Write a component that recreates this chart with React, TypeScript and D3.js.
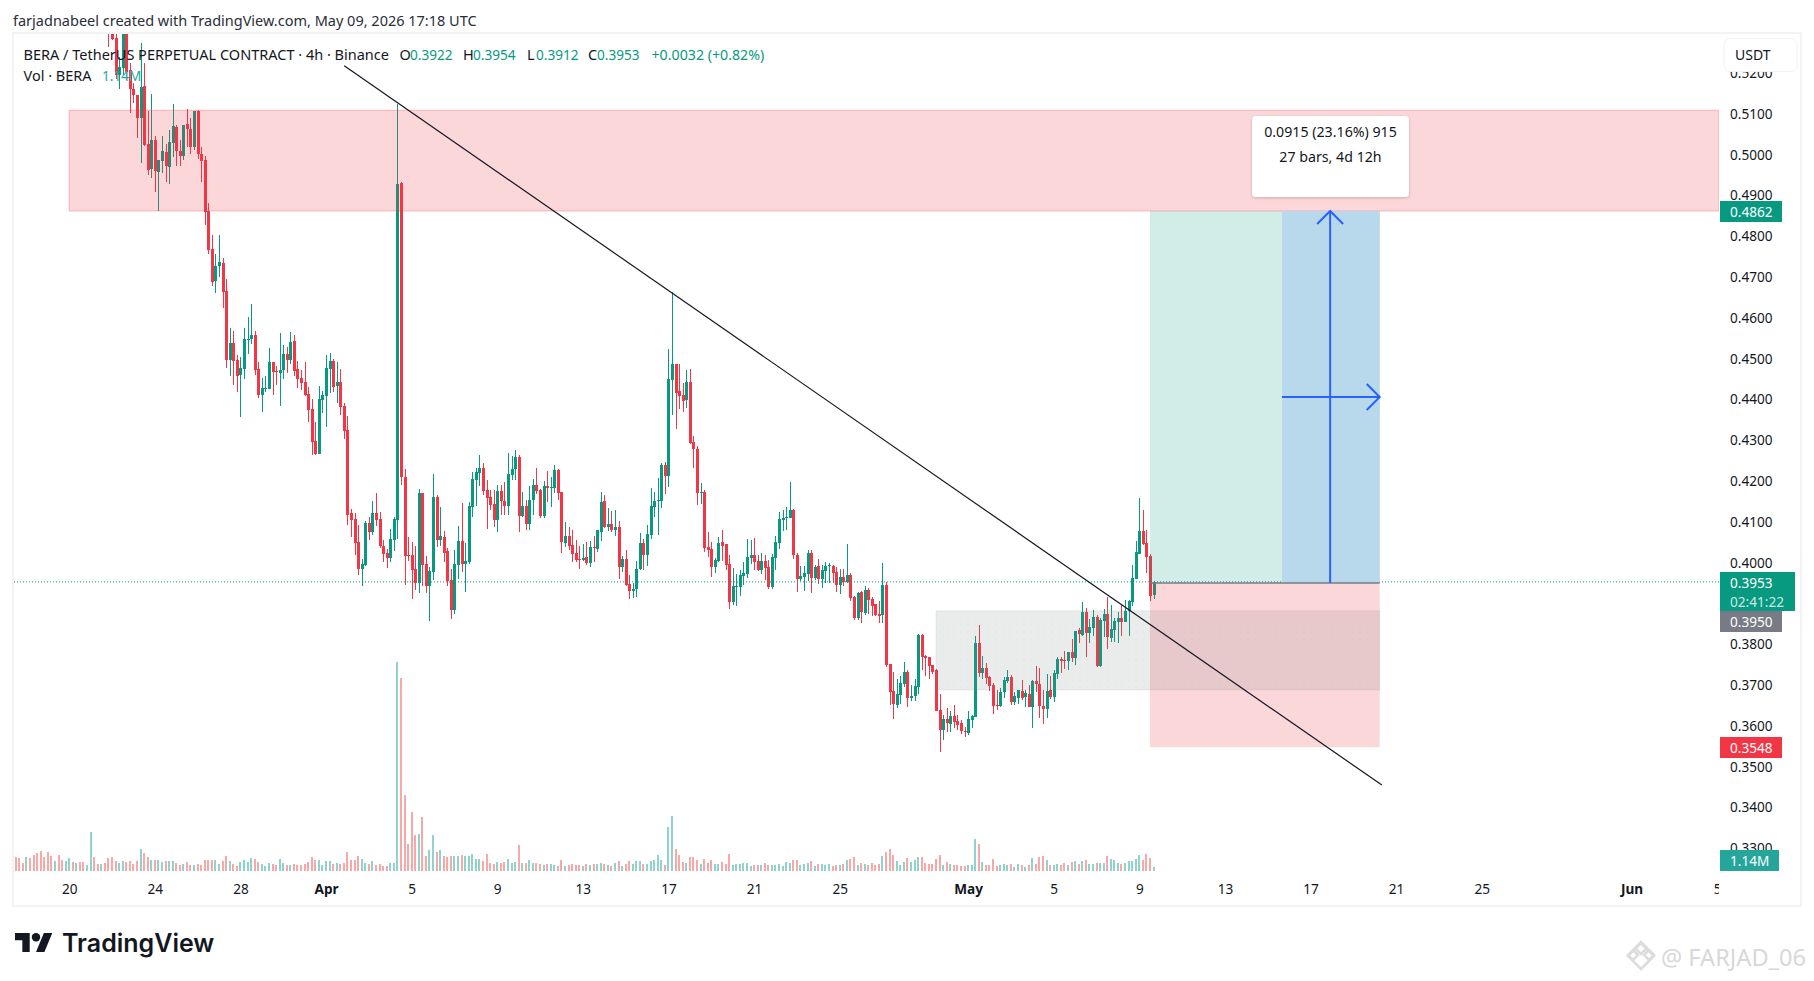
import React from 'react';
import * as d3 from 'd3';

const WIDTH = 1814;
const HEIGHT = 981;

// 4h bars, the first one on Mar 17 12:00
const firstBarTime = Date.UTC(2026, 2, 17, 12);
const barMs = 4 * 3600 * 1000;

// candles before bar 26 are above the visible range
const firstCandleBar = 26;

const opens = [
  0.5340, 0.5310, 0.5285, 0.5195,
  0.5212, 0.5320, 0.5207, 0.5161, 0.5146, 0.5089, 0.5168, 0.5026, 0.4965, 0.5037,
  0.4958, 0.4985, 0.5006, 0.4970, 0.5028, 0.5068, 0.5009, 0.4997, 0.5075, 0.5063,
  0.5019, 0.5107, 0.5002, 0.4987, 0.4862, 0.4769, 0.4691, 0.4726, 0.4734, 0.4666,
  0.4497, 0.4538, 0.4497, 0.4460, 0.4475, 0.4547, 0.4548, 0.4558, 0.4475, 0.4411,
  0.4427, 0.4426, 0.4492, 0.4471, 0.4464, 0.4472, 0.4512, 0.4497, 0.4543, 0.4475,
  0.4453, 0.4443, 0.4414, 0.4377, 0.4298, 0.4267, 0.4399, 0.4409, 0.4475, 0.4494,
  0.4433, 0.4443, 0.4384, 0.4325, 0.4122, 0.4107, 0.4051, 0.3985, 0.3994, 0.4097,
  0.4075, 0.4122, 0.4107, 0.4041, 0.4024, 0.4012, 0.4056, 0.4105, 0.4931, 0.4210,
  0.4019, 0.4019, 0.3985, 0.3950, 0.4171, 0.3997, 0.3943, 0.3977, 0.4161, 0.4056,
  0.4063, 0.4029, 0.3958, 0.3884, 0.3994, 0.4053, 0.3997, 0.4002, 0.4137, 0.4203,
  0.4220, 0.4232, 0.4178, 0.4161, 0.4144, 0.4105, 0.4176, 0.4151, 0.4139, 0.4215,
  0.4230, 0.4259, 0.4115, 0.4139, 0.4095, 0.4154, 0.4191, 0.4178, 0.4115, 0.4188,
  0.4183, 0.4183, 0.4227, 0.4173, 0.4048, 0.4066, 0.4043, 0.4024, 0.4009, 0.4007,
  0.4014, 0.3999, 0.4039, 0.4034, 0.4075, 0.4151, 0.4088, 0.4095, 0.4080, 0.4088,
  0.3990, 0.4009, 0.3948, 0.3931, 0.3936, 0.3985, 0.4048, 0.4019, 0.4068, 0.4137,
  0.4151, 0.4151, 0.4240, 0.4213, 0.4448, 0.4487, 0.4421, 0.4411, 0.4399, 0.4443,
  0.4296, 0.4279, 0.4171, 0.4173, 0.4039, 0.4034, 0.3990, 0.4004, 0.4051, 0.4046,
  0.3997, 0.3904, 0.3941, 0.3941, 0.3968, 0.3972, 0.4012, 0.4019, 0.4004, 0.3982,
  0.4004, 0.3990, 0.3941, 0.4012, 0.4048, 0.4105, 0.4110, 0.4110, 0.4129, 0.4019,
  0.3960, 0.3965, 0.3972, 0.4024, 0.3963, 0.3992, 0.3960, 0.3980, 0.3992, 0.3992,
  0.3977, 0.3945, 0.3965, 0.3953, 0.3970, 0.3916, 0.3865, 0.3928, 0.3877, 0.3933,
  0.3911, 0.3899, 0.3874, 0.3872, 0.3945, 0.3752, 0.3686, 0.3651, 0.3676, 0.3703,
  0.3732, 0.3668, 0.3673, 0.3695, 0.3823, 0.3771, 0.3769, 0.3749, 0.3737, 0.3639,
  0.3590, 0.3617, 0.3605, 0.3624, 0.3612, 0.3607, 0.3588, 0.3583, 0.3615, 0.3622,
  0.3803, 0.3730, 0.3742, 0.3720, 0.3700, 0.3651, 0.3649, 0.3683, 0.3710, 0.3720,
  0.3659, 0.3668, 0.3686, 0.3671, 0.3678, 0.3646, 0.3710, 0.3703, 0.3649, 0.3642,
  0.3688, 0.3670, 0.3727, 0.3764, 0.3761, 0.3759, 0.3781, 0.3766, 0.3835, 0.3823,
  0.3879, 0.3828, 0.3840, 0.3867, 0.3747, 0.3857, 0.3874, 0.3816, 0.3835, 0.3855,
  0.3865, 0.3855, 0.3882, 0.3904, 0.3960, 0.4021, 0.4078, 0.4048, 0.4017, 0.3922,
];

const highs = [
  0.5360, 0.5330, 0.5310, 0.5240,
  0.5350, 0.5340, 0.5224, 0.5175, 0.5146, 0.5273, 0.5224, 0.5107, 0.5150, 0.5046,
  0.4987, 0.5046, 0.5026, 0.5060, 0.5124, 0.5072, 0.5036, 0.5073, 0.5112, 0.5089,
  0.5107, 0.5109, 0.5018, 0.4997, 0.4881, 0.4803, 0.4757, 0.4803, 0.4746, 0.4695,
  0.4575, 0.4568, 0.4509, 0.4503, 0.4575, 0.4601, 0.4634, 0.4568, 0.4491, 0.4452,
  0.4458, 0.4526, 0.4492, 0.4482, 0.4562, 0.4534, 0.4528, 0.4566, 0.4558, 0.4494,
  0.4472, 0.4491, 0.4430, 0.4401, 0.4344, 0.4433, 0.4421, 0.4509, 0.4514, 0.4499,
  0.4492, 0.4475, 0.4392, 0.4360, 0.4132, 0.4122, 0.4093, 0.4008, 0.4102, 0.4112,
  0.4151, 0.4171, 0.4124, 0.4056, 0.4034, 0.4083, 0.4112, 0.5125, 0.4934, 0.4229,
  0.4063, 0.4051, 0.4041, 0.4181, 0.4171, 0.4017, 0.3990, 0.4218, 0.4166, 0.4137,
  0.4078, 0.4036, 0.3985, 0.4031, 0.4090, 0.4146, 0.4048, 0.4149, 0.4222, 0.4232,
  0.4264, 0.4244, 0.4203, 0.4178, 0.4178, 0.4191, 0.4191, 0.4198, 0.4269, 0.4262,
  0.4276, 0.4264, 0.4173, 0.4154, 0.4188, 0.4205, 0.4232, 0.4181, 0.4200, 0.4225,
  0.4210, 0.4240, 0.4230, 0.4173, 0.4100, 0.4088, 0.4080, 0.4056, 0.4041, 0.4046,
  0.4051, 0.4053, 0.4066, 0.4080, 0.4173, 0.4166, 0.4134, 0.4127, 0.4129, 0.4102,
  0.4017, 0.4031, 0.3970, 0.3950, 0.4004, 0.4073, 0.4058, 0.4093, 0.4183, 0.4173,
  0.4208, 0.4244, 0.4247, 0.4524, 0.4664, 0.4487, 0.4487, 0.4441, 0.4472, 0.4475,
  0.4311, 0.4286, 0.4195, 0.4178, 0.4075, 0.4051, 0.4012, 0.4063, 0.4080, 0.4046,
  0.4019, 0.3987, 0.3972, 0.3982, 0.4002, 0.4058, 0.4056, 0.4061, 0.4019, 0.4024,
  0.4019, 0.4007, 0.4021, 0.4066, 0.4124, 0.4129, 0.4137, 0.4198, 0.4132, 0.4024,
  0.3992, 0.3992, 0.4031, 0.4031, 0.3994, 0.4009, 0.3994, 0.4002, 0.3999, 0.3994,
  0.3990, 0.3985, 0.3985, 0.4046, 0.3975, 0.3918, 0.3928, 0.3931, 0.3943, 0.3938,
  0.3916, 0.3899, 0.3906, 0.3999, 0.3953, 0.3752, 0.3732, 0.3715, 0.3722, 0.3757,
  0.3737, 0.3700, 0.3715, 0.3825, 0.3825, 0.3774, 0.3769, 0.3749, 0.3740, 0.3678,
  0.3627, 0.3644, 0.3637, 0.3651, 0.3627, 0.3615, 0.3597, 0.3637, 0.3627, 0.3820,
  0.3847, 0.3771, 0.3754, 0.3722, 0.3705, 0.3688, 0.3693, 0.3720, 0.3737, 0.3725,
  0.3683, 0.3688, 0.3713, 0.3688, 0.3700, 0.3713, 0.3747, 0.3742, 0.3688, 0.3727,
  0.3722, 0.3737, 0.3769, 0.3769, 0.3784, 0.3781, 0.3813, 0.3833, 0.3840, 0.3904,
  0.3889, 0.3862, 0.3884, 0.3872, 0.3865, 0.3887, 0.3916, 0.3896, 0.3865, 0.3879,
  0.3896, 0.3909, 0.3909, 0.3994, 0.4053, 0.4159, 0.4129, 0.4080, 0.4021, 0.3954,
];

const lows = [
  0.5265, 0.5280, 0.5185, 0.5162,
  0.5195, 0.5183, 0.5101, 0.5126, 0.5042, 0.4980, 0.5022, 0.4950, 0.4944, 0.4909,
  0.4863, 0.4954, 0.4934, 0.4928, 0.4995, 0.4973, 0.4973, 0.4987, 0.5020, 0.5002,
  0.5011, 0.4989, 0.4934, 0.4827, 0.4757, 0.4677, 0.4662, 0.4701, 0.4625, 0.4476,
  0.4458, 0.4436, 0.4419, 0.4356, 0.4450, 0.4512, 0.4536, 0.4460, 0.4403, 0.4370,
  0.4419, 0.4425, 0.4411, 0.4436, 0.4384, 0.4450, 0.4464, 0.4487, 0.4458, 0.4427,
  0.4423, 0.4409, 0.4345, 0.4264, 0.4264, 0.4267, 0.4366, 0.4333, 0.4416, 0.4418,
  0.4392, 0.4362, 0.4303, 0.4093, 0.4063, 0.4019, 0.3970, 0.3943, 0.3992, 0.4056,
  0.4068, 0.4090, 0.4036, 0.4002, 0.3987, 0.4002, 0.4029, 0.4059, 0.4191, 0.3945,
  0.4004, 0.3911, 0.3933, 0.3926, 0.3943, 0.3926, 0.3857, 0.3958, 0.4039, 0.4041,
  0.4002, 0.3943, 0.3862, 0.3874, 0.3960, 0.3977, 0.3928, 0.3997, 0.4112, 0.4139,
  0.4188, 0.4166, 0.4083, 0.4129, 0.4088, 0.4075, 0.4117, 0.4117, 0.4117, 0.4203,
  0.4203, 0.4075, 0.4112, 0.4080, 0.4080, 0.4117, 0.4168, 0.4110, 0.4110, 0.4149,
  0.4137, 0.4171, 0.4154, 0.4024, 0.4039, 0.4031, 0.4002, 0.4002, 0.3985, 0.4004,
  0.3994, 0.3990, 0.4002, 0.4026, 0.4053, 0.4085, 0.4078, 0.4075, 0.4066, 0.3960,
  0.3977, 0.3943, 0.3911, 0.3914, 0.3916, 0.3982, 0.3982, 0.3992, 0.4058, 0.4113,
  0.4068, 0.4134, 0.4168, 0.4186, 0.4362, 0.4328, 0.4377, 0.4369, 0.4379, 0.4291,
  0.4232, 0.4142, 0.4144, 0.4026, 0.4014, 0.3965, 0.3975, 0.4002, 0.4004, 0.3982,
  0.3887, 0.3897, 0.3894, 0.3919, 0.3945, 0.3963, 0.3997, 0.3982, 0.3980, 0.3972,
  0.3958, 0.3936, 0.3936, 0.3982, 0.4034, 0.4078, 0.4080, 0.4110, 0.4009, 0.3928,
  0.3955, 0.3931, 0.3955, 0.3926, 0.3958, 0.3948, 0.3938, 0.3950, 0.3950, 0.3950,
  0.3928, 0.3923, 0.3943, 0.3950, 0.3906, 0.3860, 0.3860, 0.3852, 0.3872, 0.3874,
  0.3869, 0.3869, 0.3852, 0.3852, 0.3745, 0.3651, 0.3617, 0.3644, 0.3654, 0.3695,
  0.3646, 0.3661, 0.3661, 0.3678, 0.3737, 0.3722, 0.3715, 0.3727, 0.3637, 0.3536,
  0.3566, 0.3585, 0.3585, 0.3595, 0.3590, 0.3580, 0.3573, 0.3578, 0.3595, 0.3622,
  0.3720, 0.3715, 0.3703, 0.3686, 0.3629, 0.3639, 0.3646, 0.3668, 0.3705, 0.3651,
  0.3651, 0.3654, 0.3664, 0.3646, 0.3646, 0.3595, 0.3683, 0.3619, 0.3605, 0.3619,
  0.3666, 0.3659, 0.3715, 0.3730, 0.3740, 0.3737, 0.3757, 0.3749, 0.3803, 0.3820,
  0.3769, 0.3803, 0.3820, 0.3745, 0.3745, 0.3818, 0.3789, 0.3806, 0.3806, 0.3803,
  0.3820, 0.3855, 0.3820, 0.3894, 0.3960, 0.4021, 0.4043, 0.3975, 0.3906, 0.3912,
];

const closes = [
  0.5310, 0.5283, 0.5195, 0.5216,
  0.5320, 0.5203, 0.5162, 0.5146, 0.5089, 0.5165, 0.5024, 0.4962, 0.5037, 0.4961,
  0.4987, 0.5009, 0.4972, 0.5030, 0.5070, 0.5010, 0.4997, 0.5073, 0.5062, 0.5019,
  0.5107, 0.5002, 0.4985, 0.4860, 0.4767, 0.4689, 0.4727, 0.4736, 0.4664, 0.4497,
  0.4538, 0.4495, 0.4458, 0.4477, 0.4548, 0.4548, 0.4558, 0.4472, 0.4411, 0.4427,
  0.4429, 0.4492, 0.4468, 0.4468, 0.4472, 0.4512, 0.4497, 0.4541, 0.4470, 0.4450,
  0.4441, 0.4411, 0.4374, 0.4296, 0.4267, 0.4401, 0.4411, 0.4477, 0.4494, 0.4431,
  0.4443, 0.4382, 0.4323, 0.4117, 0.4105, 0.4048, 0.3985, 0.3997, 0.4097, 0.4075,
  0.4122, 0.4105, 0.4041, 0.4021, 0.4012, 0.4058, 0.4107, 0.4928, 0.4211, 0.4017,
  0.4017, 0.3982, 0.3950, 0.4171, 0.3994, 0.3943, 0.3980, 0.4161, 0.4056, 0.4066,
  0.4024, 0.3955, 0.3884, 0.3997, 0.4053, 0.3997, 0.4004, 0.4139, 0.4205, 0.4222,
  0.4232, 0.4176, 0.4159, 0.4141, 0.4105, 0.4176, 0.4151, 0.4139, 0.4218, 0.4230,
  0.4259, 0.4115, 0.4139, 0.4095, 0.4154, 0.4191, 0.4176, 0.4115, 0.4188, 0.4183,
  0.4186, 0.4227, 0.4171, 0.4051, 0.4066, 0.4041, 0.4021, 0.4007, 0.4007, 0.4012,
  0.3999, 0.4039, 0.4036, 0.4080, 0.4149, 0.4088, 0.4095, 0.4080, 0.4088, 0.3990,
  0.4009, 0.3945, 0.3931, 0.3936, 0.3985, 0.4048, 0.4019, 0.4070, 0.4139, 0.4151,
  0.4154, 0.4240, 0.4213, 0.4450, 0.4487, 0.4416, 0.4409, 0.4396, 0.4443, 0.4293,
  0.4279, 0.4171, 0.4173, 0.4036, 0.4031, 0.3990, 0.4007, 0.4048, 0.4041, 0.3994,
  0.3904, 0.3943, 0.3943, 0.3970, 0.3975, 0.4014, 0.4019, 0.4002, 0.3982, 0.4004,
  0.3987, 0.3941, 0.4014, 0.4051, 0.4107, 0.4110, 0.4112, 0.4129, 0.4019, 0.3960,
  0.3968, 0.3975, 0.4024, 0.3963, 0.3990, 0.3960, 0.3982, 0.3992, 0.3994, 0.3975,
  0.3945, 0.3965, 0.3953, 0.3970, 0.3914, 0.3865, 0.3926, 0.3879, 0.3933, 0.3909,
  0.3894, 0.3872, 0.3869, 0.3945, 0.3749, 0.3683, 0.3654, 0.3678, 0.3705, 0.3732,
  0.3668, 0.3673, 0.3698, 0.3823, 0.3769, 0.3766, 0.3747, 0.3732, 0.3637, 0.3590,
  0.3617, 0.3607, 0.3624, 0.3610, 0.3602, 0.3588, 0.3585, 0.3617, 0.3624, 0.3803,
  0.3730, 0.3742, 0.3718, 0.3698, 0.3649, 0.3649, 0.3683, 0.3713, 0.3720, 0.3659,
  0.3673, 0.3688, 0.3668, 0.3681, 0.3646, 0.3710, 0.3703, 0.3649, 0.3642, 0.3686,
  0.3670, 0.3730, 0.3764, 0.3759, 0.3759, 0.3781, 0.3766, 0.3833, 0.3825, 0.3879,
  0.3828, 0.3843, 0.3867, 0.3747, 0.3860, 0.3874, 0.3818, 0.3838, 0.3857, 0.3865,
  0.3855, 0.3882, 0.3906, 0.3963, 0.4026, 0.4078, 0.4046, 0.4014, 0.3919, 0.3953,
];

// volume in millions, one per bar from bar 0
const volumes = [
  4.0, 3.7, 2.3, 4.0, 3.7, 4.6, 5.2, 5.7, 4.0, 5.45,
  4.3, 2.9, 4.6, 3.2, 2.9, 3.7, 2.6, 2.3, 2.6, 2.6,
  1.7, 11.2, 4.0, 2.0, 2.0, 2.3, 3.7, 4.0, 2.9, 2.3,
  2.9, 2.6, 2.9, 2.0, 2.9, 6.3, 5.2, 4.0, 3.2, 3.2,
  3.2, 2.6, 2.9, 2.9, 2.9, 2.3, 1.7, 2.0, 2.6, 1.7,
  1.7, 2.0, 1.7, 3.2, 3.2, 3.2, 3.2, 2.0, 2.9, 4.3,
  2.9, 2.0, 1.4, 2.6, 3.2, 2.6, 3.7, 3.4, 2.6, 2.0,
  1.4, 2.3, 2.0, 1.7, 3.4, 2.3, 1.7, 1.7, 2.0, 1.7,
  1.7, 2.0, 2.6, 4.0, 3.2, 3.2, 1.7, 2.9, 2.9, 2.0,
  2.3, 2.0, 2.3, 5.45, 3.2, 3.2, 4.3, 3.4, 2.3, 2.0,
  2.9, 1.7, 2.0, 1.4, 1.4, 2.3, 2.3, 60, 55.4, 21.8,
  7.75, 16.9, 10.3, 10.6, 15.5, 4.3, 6.0, 10.3, 5.45, 6.0,
  4.3, 4.0, 4.3, 4.3, 4.3, 4.6, 4.3, 4.3, 4.9, 3.4,
  3.4, 2.9, 4.9, 2.3, 2.0, 2.6, 2.3, 2.6, 3.4, 2.3,
  2.6, 7.5, 2.3, 2.3, 3.2, 2.3, 2.3, 2.0, 1.7, 2.0,
  2.0, 1.7, 1.4, 3.2, 1.4, 1.7, 2.0, 1.7, 1.7, 1.4,
  2.0, 1.7, 2.0, 2.0, 2.3, 2.0, 1.7, 1.4, 2.3, 2.9,
  1.4, 2.0, 2.9, 2.0, 2.9, 2.9, 2.0, 2.0, 2.9, 3.2,
  4.6, 3.2, 1.7, 12.6, 15.8, 6.3, 4.6, 2.6, 2.3, 4.0,
  4.0, 3.2, 2.0, 3.4, 2.3, 3.2, 2.0, 2.0, 2.6, 2.0,
  4.9, 1.7, 2.0, 2.0, 2.3, 2.3, 1.4, 1.7, 1.7, 1.7,
  2.3, 1.7, 1.7, 1.7, 2.0, 1.4, 2.6, 2.3, 3.2, 3.2,
  1.7, 2.0, 2.3, 2.9, 1.4, 2.0, 2.0, 1.7, 2.0, 1.4,
  1.7, 1.7, 2.0, 3.2, 3.4, 4.0, 1.7, 2.3, 2.0, 1.7,
  2.3, 1.7, 2.0, 4.3, 5.45, 6.3, 4.6, 2.9, 1.7, 2.6,
  3.7, 2.6, 3.2, 4.0, 4.0, 2.3, 2.0, 2.0, 3.4, 4.6,
  1.7, 2.6, 2.0, 1.7, 1.7, 1.4, 1.4, 1.7, 1.7, 9.2,
  7.75, 2.6, 1.7, 1.7, 3.4, 1.4, 1.7, 2.0, 1.7, 2.0,
  1.15, 2.0, 1.7, 1.15, 1.7, 3.7, 2.0, 4.0, 4.3, 3.2,
  1.7, 1.7, 2.0, 1.7, 2.3, 1.7, 2.6, 2.9, 2.0, 2.9,
  3.2, 2.0, 2.0, 2.3, 2.3, 2.3, 4.3, 3.4, 3.2, 2.3,
  2.0, 2.3, 2.9, 2.9, 3.4, 4.6, 3.2, 4.9, 3.7, 1.14,
];

// direction of the bars whose candles are off the top (1 = up)
const earlyVolumeUp = [0, 0, 0, 1, 0, 0, 0, 0, 0, 0, 0, 1, 0, 0, 1, 1, 0, 1, 0, 0, 1, 1, 0, 0, 1, 0];

// 0.39 sits behind the last price label
const priceTicks = [0.52, 0.51, 0.5, 0.49, 0.48, 0.47, 0.46, 0.45, 0.44, 0.43, 0.42, 0.41, 0.4, 0.38, 0.37, 0.36, 0.35, 0.34, 0.33];

const timeTicks = [
  Date.UTC(2026, 2, 20), Date.UTC(2026, 2, 24), Date.UTC(2026, 2, 28), Date.UTC(2026, 3, 1),
  Date.UTC(2026, 3, 5), Date.UTC(2026, 3, 9), Date.UTC(2026, 3, 13), Date.UTC(2026, 3, 17),
  Date.UTC(2026, 3, 21), Date.UTC(2026, 3, 25), Date.UTC(2026, 4, 1), Date.UTC(2026, 4, 5),
  Date.UTC(2026, 4, 9), Date.UTC(2026, 4, 13), Date.UTC(2026, 4, 17), Date.UTC(2026, 4, 21),
  Date.UTC(2026, 4, 25), Date.UTC(2026, 5, 1), Date.UTC(2026, 5, 5),
];

const UP = '#089981';
const DOWN = '#F23645';
const VOL_UP = 'rgba(38,166,154,0.5)';
const VOL_DOWN = 'rgba(239,83,80,0.5)';
const TEXT = '#131722';
const FONT = '"Noto Sans", sans-serif';
const WORD_SIZE = 14.5;
const NUMBER_SIZE = 13.6;

const App: React.FC = () => {
  const svgRef = React.useRef<SVGSVGElement>(null);

  React.useEffect(() => {
    if (!svgRef.current) return;
    const svg = d3.select(svgRef.current);
    svg.selectAll('*').remove();

    const paneRight = 1719;
    const paneTop = 34;
    const paneBottom = 872;

    const x = d3.scaleUtc()
      .domain([firstBarTime, firstBarTime + 480 * barMs])
      .range([15.7, 15.7 + 480 * 3.567]);
    const barX = (bar: number) => x(firstBarTime + bar * barMs);
    const y = d3.scaleLinear().domain([0.4, 0.51]).range([562.7, 113.9]);
    const volY = d3.scaleLinear().domain([0, 60]).range([871, 662]);

    const defs = svg.append('defs');
    defs.append('clipPath').attr('id', 'pane')
      .append('rect').attr('x', 14).attr('y', paneTop).attr('width', paneRight - 14).attr('height', paneBottom - paneTop);
    defs.append('clipPath').attr('id', 'timePane')
      .append('rect').attr('x', 14).attr('y', paneBottom).attr('width', paneRight - 14).attr('height', 32);
    defs.append('clipPath').attr('id', 'page')
      .append('rect').attr('width', WIDTH).attr('height', HEIGHT);
    const dots = defs.append('pattern').attr('id', 'dots').attr('width', 7).attr('height', 7).attr('patternUnits', 'userSpaceOnUse');
    dots.append('circle').attr('cx', 2).attr('cy', 2).attr('r', 0.6).attr('fill', 'rgba(110,120,120,0.09)');
    const shadow = defs.append('filter').attr('id', 'tipShadow').attr('x', '-10%').attr('y', '-10%').attr('width', '120%').attr('height', '130%');
    shadow.append('feDropShadow').attr('dx', 0).attr('dy', 1).attr('stdDeviation', 1.5).attr('flood-color', '#000').attr('flood-opacity', 0.2);

    const label = (
      parent: d3.Selection<any, unknown, null, undefined>,
      tx: number, ty: number, text: string, size: number, fill: string,
      anchor: string = 'start', weight: number = 400
    ) => parent.append('text')
      .attr('x', tx).attr('y', ty)
      .attr('dominant-baseline', 'central')
      .attr('text-anchor', anchor)
      .attr('font-family', FONT)
      .attr('font-size', size)
      .attr('font-weight', weight)
      .attr('fill', fill)
      .text(text);

    // page background and frame
    svg.append('rect').attr('width', WIDTH).attr('height', HEIGHT).attr('fill', '#fff');
    svg.append('rect').attr('x', 13).attr('y', 33).attr('width', 1788).attr('height', 873)
      .attr('fill', 'none').attr('stroke', '#f3f3f3').attr('stroke-width', 2);

    label(svg, 13, 20, 'farjadnabeel created with TradingView.com, May 09, 2026 17:18 UTC', WORD_SIZE, '#2a2e39');

    const pane = svg.append('g').attr('clip-path', 'url(#pane)');

    // volume
    const volG = pane.append('g').attr('shape-rendering', 'crispEdges');
    volumes.forEach((v, i) => {
      const up = i < firstCandleBar
        ? earlyVolumeUp[i] === 1
        : closes[i - firstCandleBar] >= opens[i - firstCandleBar];
      volG.append('rect')
        .attr('x', Math.round(barX(i)) - 1)
        .attr('y', volY(v))
        .attr('width', 2)
        .attr('height', volY(0) - volY(v))
        .attr('fill', up ? VOL_UP : VOL_DOWN);
    });

    // candles
    const candleG = pane.append('g').attr('shape-rendering', 'crispEdges');
    opens.forEach((o, k) => {
      const c = closes[k];
      const cx = Math.round(barX(k + firstCandleBar));
      const color = c >= o ? UP : DOWN;
      candleG.append('rect')
        .attr('x', cx).attr('width', 1)
        .attr('y', y(highs[k]))
        .attr('height', y(lows[k]) - y(highs[k]))
        .attr('fill', color);
      const top = y(Math.max(o, c));
      candleG.append('rect')
        .attr('x', cx - 1).attr('width', 3)
        .attr('y', top)
        .attr('height', Math.max(1, y(Math.min(o, c)) - top))
        .attr('fill', color);
    });

    // last price line
    pane.append('line')
      .attr('x1', 14).attr('x2', paneRight)
      .attr('y1', y(0.3953)).attr('y2', y(0.3953))
      .attr('stroke', UP).attr('stroke-dasharray', '1 2');

    // supply zone
    pane.append('rect')
      .attr('x', barX(15)).attr('width', paneRight - barX(15))
      .attr('y', y(0.5109)).attr('height', y(0.4862) - y(0.5109))
      .attr('fill', 'rgba(242,54,69,0.2)')
      .attr('stroke', 'rgba(242,54,69,0.3)');

    // long position tool
    const toolLeft = barX(318);
    const toolRight = barX(382.4);
    const blueLeft = barX(355);
    const blueMid = barX(368.5);
    pane.append('rect')
      .attr('x', toolLeft).attr('width', toolRight - toolLeft)
      .attr('y', y(0.4862)).attr('height', y(0.395) - y(0.4862))
      .attr('fill', 'rgba(8,153,129,0.18)');
    pane.append('rect')
      .attr('x', toolLeft).attr('width', toolRight - toolLeft)
      .attr('y', y(0.395)).attr('height', y(0.3548) - y(0.395))
      .attr('fill', 'rgba(242,54,69,0.2)');
    pane.append('rect')
      .attr('x', blueLeft).attr('width', toolRight - blueLeft)
      .attr('y', y(0.4862)).attr('height', y(0.395) - y(0.4862))
      .attr('fill', '#B8D8EC');
    pane.append('line')
      .attr('x1', toolLeft).attr('x2', toolRight)
      .attr('y1', y(0.395)).attr('y2', y(0.395))
      .attr('stroke', '#787B86').attr('stroke-width', 1.5);

    // grey box
    const greyLeft = barX(258);
    pane.append('rect')
      .attr('x', greyLeft).attr('width', toolRight - greyLeft)
      .attr('y', y(0.3882)).attr('height', y(0.3688) - y(0.3882))
      .attr('fill', 'rgba(125,132,132,0.16)')
      .attr('stroke', 'rgba(125,132,132,0.12)');
    pane.append('rect')
      .attr('x', greyLeft).attr('width', toolRight - greyLeft)
      .attr('y', y(0.3882)).attr('height', y(0.3688) - y(0.3882))
      .attr('fill', 'url(#dots)');

    // blue arrows
    const arrowG = pane.append('g').attr('stroke', '#2962FF').attr('stroke-width', 2).attr('fill', 'none');
    const arrowTop = y(0.4862);
    const arrowMidY = y(0.4406);
    arrowG.append('line').attr('x1', blueMid).attr('x2', blueMid).attr('y1', y(0.395)).attr('y2', arrowTop);
    arrowG.append('path').attr('d', d3.line()([[blueMid - 13, arrowTop + 13], [blueMid, arrowTop], [blueMid + 13, arrowTop + 13]]) as string);
    arrowG.append('line').attr('x1', blueLeft).attr('x2', toolRight).attr('y1', arrowMidY).attr('y2', arrowMidY);
    arrowG.append('path').attr('d', d3.line()([[toolRight - 13, arrowMidY - 13], [toolRight, arrowMidY], [toolRight - 13, arrowMidY + 13]]) as string);

    // trend line
    pane.append('line')
      .attr('x1', barX(92.1)).attr('y1', y(0.5218))
      .attr('x2', barX(383)).attr('y2', y(0.3455))
      .attr('stroke', TEXT).attr('stroke-width', 1.2);

    // measure tooltip
    svg.append('rect')
      .attr('x', 1252).attr('y', 116).attr('width', 157).attr('height', 81).attr('rx', 4)
      .attr('fill', '#fff').attr('filter', 'url(#tipShadow)');
    label(svg, 1330.5, 131, '0.0915 (23.16%) 915', 14.2, TEXT, 'middle');
    label(svg, 1330.5, 156, '27 bars, 4d 12h', 14.2, TEXT, 'middle');

    // legend
    label(svg, 23.5, 54, 'BERA / TetherUS PERPETUAL CONTRACT · 4h · Binance', WORD_SIZE, TEXT);
    [['O', 399.5, '0.3922', 410], ['H', 463, '0.3954', 473], ['L', 527, '0.3912', 536], ['C', 588, '0.3953', 597]].forEach(d => {
      label(svg, d[1] as number, 54, d[0] as string, WORD_SIZE, TEXT);
      label(svg, d[3] as number, 54, d[2] as string, NUMBER_SIZE, UP);
    });
    label(svg, 651.5, 54, '+0.0032 (+0.82%)', 14.2, UP);
    label(svg, 23.5, 75, 'Vol · BERA', WORD_SIZE, TEXT);
    label(svg, 102, 75, '1.14M', NUMBER_SIZE, '#26a69a');

    // price axis
    const priceAxis = svg.append('g')
      .attr('transform', 'translate(1730,0)')
      .call(d3.axisRight(y).tickValues(priceTicks).tickFormat(d3.format('.4f') as any).tickSize(0).tickPadding(0));
    priceAxis.select('.domain').remove();
    priceAxis.selectAll('text')
      .attr('font-family', FONT).attr('font-size', NUMBER_SIZE).attr('fill', TEXT);

    // time axis
    const boldTicks = [Date.UTC(2026, 3, 1), Date.UTC(2026, 4, 1), Date.UTC(2026, 5, 1)];
    const monthName = d3.utcFormat('%b');
    const dayName = d3.utcFormat('%-d');
    const timeAxis = svg.append('g')
      .attr('clip-path', 'url(#timePane)')
      .append('g')
      .attr('transform', 'translate(0,884)')
      .call(d3.axisBottom(x).tickValues(timeTicks.map(t => new Date(t)))
        .tickFormat(((d: Date) => (boldTicks.includes(+d) ? monthName(d) : dayName(d))) as any)
        .tickSize(0).tickPadding(0));
    timeAxis.select('.domain').remove();
    timeAxis.selectAll('text')
      .attr('font-family', FONT).attr('font-size', NUMBER_SIZE).attr('fill', TEXT)
      .attr('font-weight', (d: any) => (boldTicks.includes(+d) ? 700 : 400));

    // right-hand scale labels
    const badge = (top: number, h: number, w: number, fill: string, text: string) => {
      svg.append('rect').attr('x', 1720).attr('y', top).attr('width', w).attr('height', h).attr('fill', fill);
      label(svg, 1730, top + 10.5, text, NUMBER_SIZE, '#fff');
    };
    badge(201, 21, 62, UP, '0.4862');
    badge(572, 39, 75, UP, '0.3953');
    label(svg, 1730, 601, '02:41:22', NUMBER_SIZE, 'rgba(255,255,255,0.8)');
    badge(611, 21, 62, '#787B86', '0.3950');
    badge(737, 21, 62, DOWN, '0.3548');
    badge(850, 21, 59, '#26a69a', '1.14M');

    svg.append('rect')
      .attr('x', 1724).attr('y', 38.5).attr('width', 73).attr('height', 33).attr('rx', 6)
      .attr('fill', '#fff').attr('stroke', '#f0f3fa');
    label(svg, 1735, 54.5, 'USDT', 14, TEXT);

    // TradingView logo
    svg.append('g').attr('transform', 'translate(15,928.8) scale(1.05)')
      .attr('fill', '#131722')
      .html('<path d="M14 22H7V11H0V4h14v18ZM28 22h-8l7.5-18h8L28 22Z"/><circle cx="20" cy="8" r="4"/>');
    label(svg, 62, 943, 'TradingView', 25, '#131722', 'start', 600)
      .attr('font-family', 'Inter, sans-serif');

    // watermark
    const mark = svg.append('g').attr('clip-path', 'url(#page)');
    const diamond = (cx: number, cy: number, r: number) =>
      mark.append('path')
        .attr('d', d3.line()([[cx, cy - r], [cx + r, cy], [cx, cy + r], [cx - r, cy]]) as string + 'Z')
        .attr('fill', 'none').attr('stroke', '#dcdcdc').attr('stroke-width', 2.5);
    diamond(1641, 948, 6);
    diamond(1633, 955, 5);
    diamond(1649, 955, 5);
    diamond(1641, 956, 13);
    label(mark, 1661, 957, '@ FARJAD_06', 23.6, '#d8d8d8');
  }, []);

  return (
    <svg
      ref={svgRef}
      width={WIDTH}
      height={HEIGHT}
      style={{ position: 'absolute', left: 0, top: 0, display: 'block' }}
    />
  );
};

export default App;
